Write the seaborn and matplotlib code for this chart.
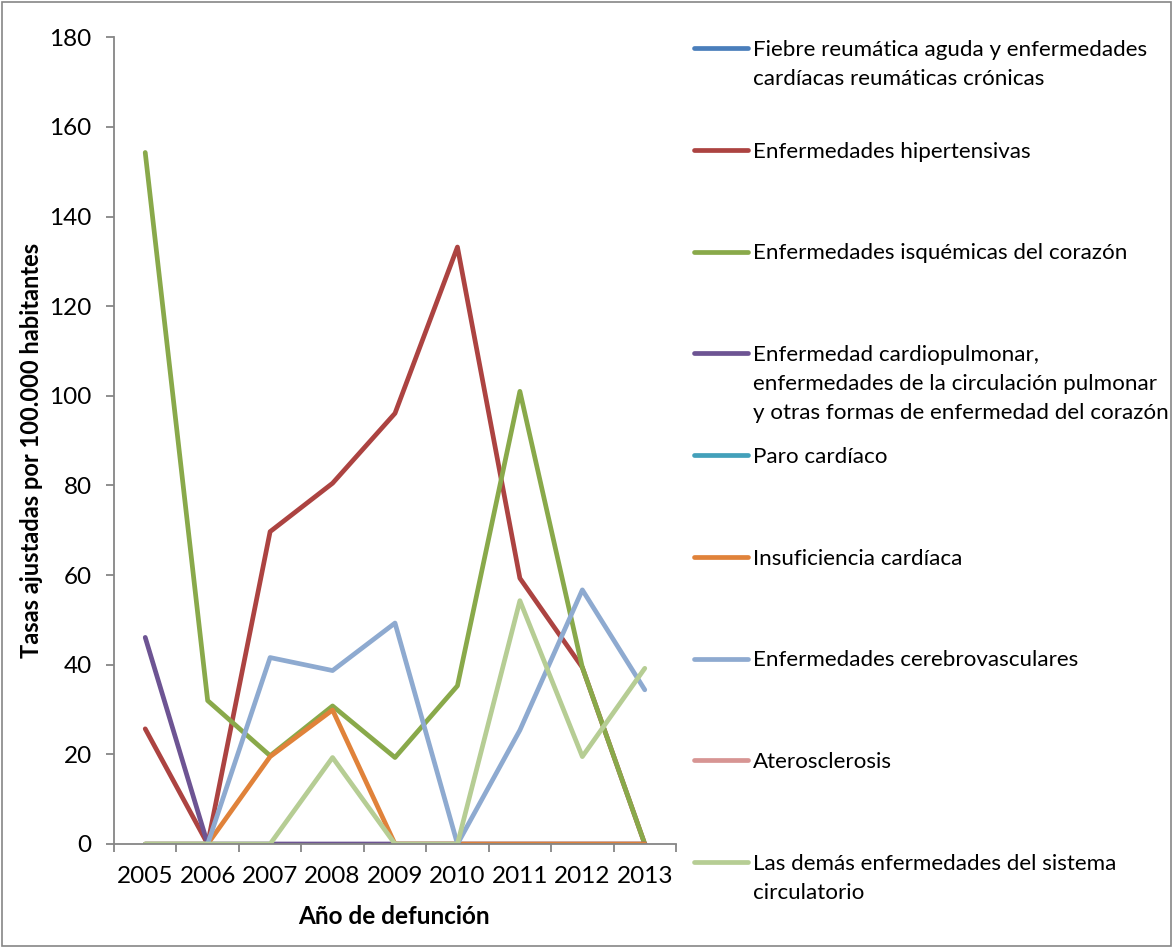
import numpy as np
import pandas as pd
import matplotlib
matplotlib.use("Agg")
import matplotlib.pyplot as plt
import seaborn as sns
from matplotlib.lines import Line2D
from matplotlib.patches import Rectangle
from matplotlib.ticker import FixedLocator

# ---- data: tasas ajustadas por 100.000 habitantes ----
years = [2005, 2006, 2007, 2008, 2009, 2010, 2011, 2012, 2013]
nan = np.nan
fiebre_reumatica = [0, 0, 0, 0, 0, 0, 0, 0, 0]
hipertensivas = [25.7, 0, 69.7, 80.5, 96.1, 133.2, 59.3, 39.4, 0]
isquemicas = [154.3, 32.0, 19.7, 30.8, 19.3, 35.3, 101.0, 39.4, 0]
cardiopulmonar = [46.1, 0, 0, 0, 0, 0, 0, 0, 0]
paro_cardiaco = [nan] * 9
insuficiencia = [0, 0, 19.5, 29.9, 0, 0, 0, 0, 0]
cerebrovasculares = [0, 0, 41.6, 38.7, 49.3, 0, 25.4, 56.7, 34.4]
aterosclerosis = [nan] * 9
demas = [0, 0, 0, 19.3, 0, 0, 54.3, 19.5, 39.2]

series_labels = [
    "Fiebre reumática aguda y enfermedades\ncardíacas reumáticas crónicas",
    "Enfermedades hipertensivas",
    "Enfermedades isquémicas del corazón",
    "Enfermedad cardiopulmonar,\nenfermedades de la circulación pulmonar\ny otras formas de enfermedad del corazón",
    "Paro cardíaco",
    "Insuficiencia cardíaca",
    "Enfermedades cerebrovasculares",
    "Aterosclerosis",
    "Las demás enfermedades del sistema\ncirculatorio",
]
series_values = [fiebre_reumatica, hipertensivas, isquemicas, cardiopulmonar,
                 paro_cardiaco, insuficiencia, cerebrovasculares,
                 aterosclerosis, demas]
series_colors = ["#4A7EBB", "#AC4341", "#89A94A", "#6D5493", "#43A0BA",
                 "#E0823A", "#8EAAD0", "#D79593", "#B6CD94"]

y_ticks = [0, 20, 40, 60, 80, 100, 120, 140, 160, 180]
x_label = "Año de defunción"
y_label = "Tasas ajustadas por 100.000 habitantes"

# ---- long-form table for seaborn ----
rows = []
for lab, vals in zip(series_labels, series_values):
    for yr, v in zip(years, vals):
        rows.append({"Año": yr, "Tasa": v, "Causa": lab})
df = pd.DataFrame(rows)

sns.set_theme(style="white")
plt.rcParams["font.family"] = ["Lato", "DejaVu Sans"]

W, H = 1173, 948
fig = plt.figure(figsize=(W / 100, H / 100), dpi=100)
fig.patch.set_facecolor("white")


def fx(p):
    return p / W


def fy(p):
    return 1 - p / H


ax = fig.add_axes([fx(114), fy(844), fx(676) - fx(114), fy(37.3) - fy(844)])

LW = 3.4
palette = dict(zip(series_labels, series_colors))
for lab in series_labels:
    sub = df[df["Causa"] == lab]
    if sub["Tasa"].notna().any():
        sns.lineplot(data=sub, x="Año", y="Tasa", color=palette[lab],
                     estimator=None, sort=True, linewidth=LW, ax=ax,
                     legend=False)
for ln in ax.lines:
    ln.set_solid_capstyle("round")
    ln.set_solid_joinstyle("round")

ax.set_xlim(years[0] - 0.5, years[-1] + 0.5)
ax.set_ylim(0, 180)
ax.set_yticks(y_ticks)
ax.set_xticks(years)
ax.set_xticklabels([str(y) for y in years])
ax.xaxis.set_minor_locator(FixedLocator([y - 0.5 for y in years] + [years[-1] + 0.5]))

gray = "#868686"
for s in ["top", "right"]:
    ax.spines[s].set_visible(False)
for s in ["left", "bottom"]:
    ax.spines[s].set_color(gray)
    ax.spines[s].set_linewidth(1.3)

TICK_FS = 17.5
ax.tick_params(axis="y", which="major", direction="out", length=6, width=1.3,
               color=gray, labelsize=TICK_FS, pad=10, left=True, labelcolor="black")
ax.tick_params(axis="x", which="major", length=0, labelsize=TICK_FS, pad=16,
               labelcolor="black")
ax.tick_params(axis="x", which="minor", direction="out", length=6, width=1.3,
               color=gray, bottom=True)
ax.grid(False)
ax.set_xlabel("")
ax.set_ylabel("")

fig.text(fx(32), fy(450), y_label, rotation=90, ha="center", va="center",
         fontsize=17, fontweight="bold", color="black")
fig.text(fx(394), fy(916), x_label, ha="center", va="center",
         fontsize=17.5, fontweight="bold", color="black")

# ---- legend on the right ----
LEG_FS = 16.1
entry_y0, entry_step, line_gap = 48, 101.75, 29
for i, (lab, col) in enumerate(zip(series_labels, series_colors)):
    yc = entry_y0 + i * entry_step
    fig.add_artist(Line2D([fx(694), fx(748)], [fy(yc), fy(yc)], color=col,
                          linewidth=LW, solid_capstyle="round",
                          transform=fig.transFigure))
    for k, part in enumerate(lab.split("\n")):
        fig.text(fx(753), fy(yc + k * line_gap + 7.8), part, ha="left",
                 va="baseline", fontsize=LEG_FS, color="black")

# outer frame
fig.add_artist(Rectangle((0.002, 0.002), 0.996, 0.996, transform=fig.transFigure,
                         fill=False, edgecolor=gray, linewidth=1.2))

fig.savefig("out.png", dpi=100, facecolor="white")
